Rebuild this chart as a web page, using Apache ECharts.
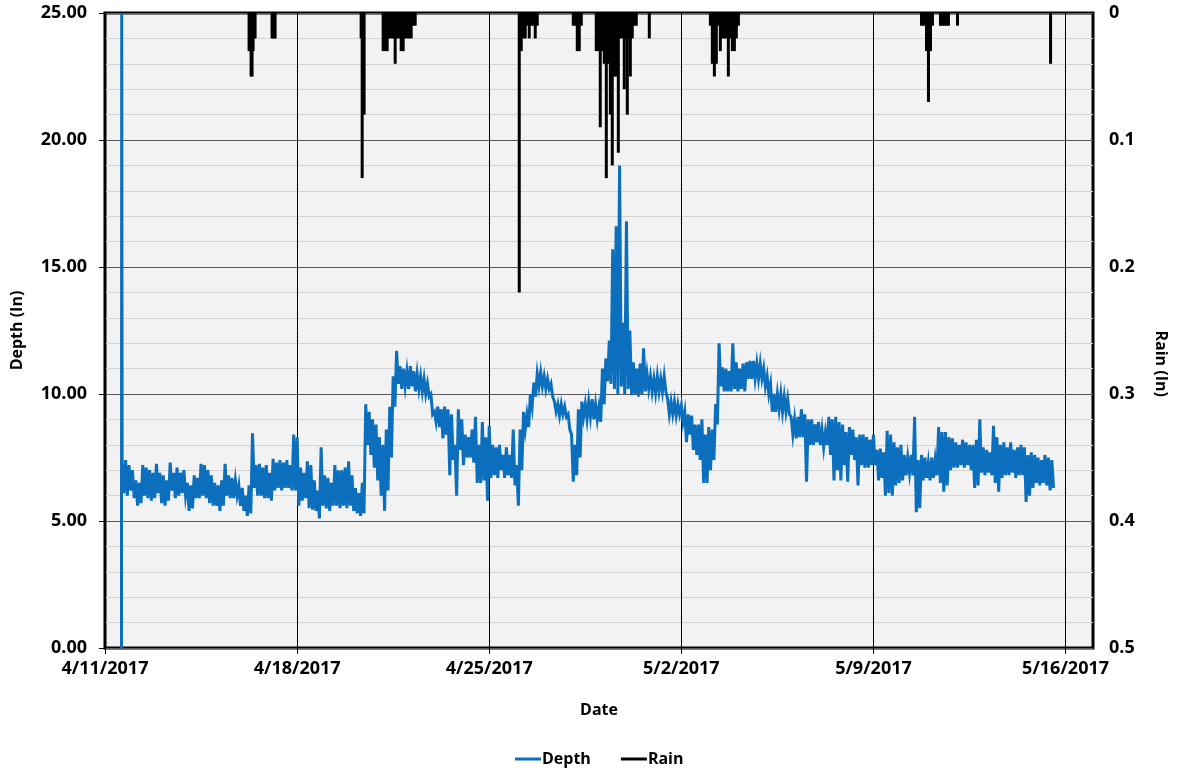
<!DOCTYPE html>
<html><head><meta charset="utf-8">
<script src="https://cdn.jsdelivr.net/npm/echarts@6/dist/echarts.min.js"></script>
<style>html,body{margin:0;padding:0;background:#fff}#c{width:1179px;height:775px}</style>
</head><body><div id="c"></div>
<script>
// x axis: days since 4/11/2017 00:00
const xTickLabels = ['4/11/2017', '4/18/2017', '4/25/2017', '5/2/2017', '5/9/2017', '5/16/2017'];
const xTickDays = [0, 7, 14, 21, 28, 35];

// Depth (In): logger start spike, then 3-hourly slots from 4/11/2017 15:00,
// each slot read as its high and its low reading
const depthSpikeHours = [14.4, 14.6];
const depthSpikeValues = [0, 25];
const depthStartHour = 15;
const depthStepHours = 3;
const depthHigh = [
  7.3, 7.4, 7.2, 7.0, 6.6, 6.5, 7.2, 7.1,
  7.0, 6.9, 7.25, 6.9, 6.8, 6.6, 7.3, 6.9,
  7.1, 6.9, 7.0, 6.5, 6.4, 6.8, 6.7, 7.25,
  7.2, 7.0, 6.8, 6.5, 6.4, 6.6, 7.25, 6.8,
  6.7, 6.6, 6.4, 6.3, 6.0, 6.4, 8.45, 7.2,
  7.25, 7.1, 7.2, 6.9, 7.45, 7.3, 7.4, 7.3,
  7.4, 7.2, 8.4, 8.3, 7.1, 6.9, 7.35, 7.2,
  6.6, 6.2, 7.9, 6.8, 6.7, 6.5, 7.2, 7.0,
  7.0, 7.1, 7.35, 6.8, 6.3, 6.1, 6.5, 9.6,
  9.3, 9.0, 8.8, 8.3, 8.0, 8.6, 9.5, 10.7,
  11.7, 11.1, 11.0, 10.9, 11.1, 10.9, 10.8, 10.7,
  10.6, 10.4, 10.0, 9.3, 9.5, 9.4, 9.5, 9.4,
  9.2, 8.0, 9.4, 9.0, 8.4, 8.3, 8.6, 9.1,
  8.0, 8.9, 8.3, 8.75, 8.0, 7.9, 8.0, 7.6,
  7.9, 7.6, 8.6, 7.2, 8.6, 9.3, 9.2, 10.0,
  10.45, 10.8, 10.85, 10.7, 10.6, 10.4, 9.7, 9.6,
  9.6, 9.5, 9.2, 8.4, 8.0, 9.4, 9.7, 9.6,
  9.7, 9.8, 9.6, 9.5, 11.0, 11.4, 12.1, 15.7,
  16.6, 19.0, 12.8, 16.8, 12.5, 11.25, 11.0, 11.2,
  11.8, 10.8, 10.7, 10.6, 10.7, 10.6, 10.7, 9.8,
  9.7, 9.7, 9.6, 9.55, 9.3, 9.2, 9.15, 8.8,
  8.8, 9.0, 8.4, 8.7, 8.6, 9.6, 12.0, 11.05,
  11.0, 10.9, 12.0, 11.25, 11.0, 11.2, 11.25, 11.3,
  11.3, 11.2, 11.2, 11.0, 10.7, 10.4, 10.0, 10.0,
  10.0, 9.9, 9.8, 9.1, 9.0, 9.1, 9.4, 9.2,
  9.0, 9.0, 8.8, 8.9, 8.6, 8.5, 9.1, 9.0,
  9.1, 8.9, 8.8, 8.5, 8.7, 8.6, 8.3, 8.4,
  8.4, 8.3, 8.2, 8.4, 7.8, 7.85, 7.7, 8.55,
  8.4, 8.1, 7.9, 8.0, 7.6, 7.5, 7.6, 9.1,
  7.4, 7.6, 7.5, 7.3, 7.5, 7.4, 8.7, 8.5,
  8.5, 8.3, 8.25, 8.1, 8.0, 8.2, 8.1, 8.0,
  8.0, 8.2, 9.0, 7.9, 7.8, 7.7, 8.75, 8.3,
  8.0, 8.1, 7.9, 8.1, 7.8, 7.9, 8.0, 7.9,
  7.6, 7.7, 7.6, 7.5, 7.4, 7.6, 7.5, 7.4
];
const depthLow = [
  6.1, 6.0, 6.2, 5.9, 5.6, 5.7, 6.0, 5.9,
  5.8, 5.9, 6.1, 5.7, 5.6, 5.8, 6.2, 5.9,
  6.0, 6.1, 6.0, 5.4, 5.5, 5.9, 5.9, 6.0,
  5.9, 5.7, 5.6, 5.6, 5.4, 5.6, 6.0, 5.9,
  5.9, 6.0, 5.6, 5.4, 5.2, 5.3, 6.3, 6.0,
  6.0, 5.9, 5.9, 5.8, 6.2, 6.3, 6.2, 6.3,
  6.3, 6.2, 6.2, 5.6, 5.8, 5.9, 5.5, 5.45,
  5.4, 5.1, 5.6, 5.5, 5.4, 5.6, 5.6, 5.5,
  5.6, 5.5, 5.6, 5.4, 5.3, 5.2, 5.3, 8.0,
  7.6, 7.1, 6.6, 6.0, 5.4, 6.2, 7.5, 9.5,
  10.4, 10.2, 10.3, 10.2, 10.3, 10.1, 10.2, 10.1,
  10.0, 9.9, 9.2, 8.9, 8.7, 8.25, 8.4, 6.8,
  7.4, 6.0, 7.8, 7.2, 7.5, 7.5, 7.3, 6.5,
  6.5, 6.6, 5.8, 6.7, 6.8, 6.7, 7.0, 6.7,
  6.8, 6.7, 6.4, 5.6, 7.0, 8.6, 8.7, 9.5,
  9.9, 10.3, 10.3, 10.2, 10.2, 9.9, 9.3, 9.15,
  9.2, 9.1, 8.6, 6.55, 6.8, 7.5, 9.1, 9.0,
  9.1, 9.0, 9.0, 8.9, 9.6, 10.5, 10.4, 10.2,
  10.0, 10.3, 10.0, 10.2, 9.95, 10.0, 9.9, 10.0,
  10.1, 10.2, 10.1, 10.05, 10.1, 10.1, 10.1, 9.2,
  9.2, 9.15, 9.2, 8.9, 8.1, 8.4, 7.8, 7.6,
  7.4, 6.5, 6.5, 7.0, 7.4, 8.8, 10.3, 10.1,
  10.1, 10.1, 10.2, 10.1, 10.2, 10.1, 10.6, 10.6,
  10.6, 10.6, 10.6, 10.3, 10.0, 9.3, 9.3, 9.4,
  9.3, 9.3, 9.2, 8.4, 8.25, 8.3, 8.3, 6.55,
  8.0, 8.0, 8.1, 8.0, 7.9, 8.0, 7.6, 6.6,
  7.0, 6.6, 7.2, 6.55, 7.6, 7.4, 6.4, 7.2,
  7.1, 7.1, 7.2, 7.2, 6.6, 6.7, 6.0, 6.1,
  6.0, 6.4, 6.5, 6.6, 6.8, 6.9, 6.8, 5.35,
  5.5, 6.6, 6.7, 6.6, 6.7, 6.8, 6.5, 6.15,
  6.4, 7.0, 7.1, 7.1, 7.2, 7.1, 7.2, 7.0,
  6.3, 6.4, 6.9, 6.8, 6.9, 6.8, 6.5, 6.15,
  6.7, 6.8, 6.8, 6.9, 6.7, 6.8, 6.8, 5.75,
  6.0, 6.3, 6.5, 6.4, 6.5, 6.4, 6.2, 6.3
];

// Rain (In): hours since 4/11/2017 00:00 and amounts
const rainHours = [
  126.0, 126.9, 127.75, 128.6, 129.5, 130.4, 131.25,
  146.1, 147.9, 148.75,
  224.0, 224.9, 225.75, 226.6,
  243.25, 245.0, 246.75, 248.5, 250.25, 252.0, 253.75, 255.5, 257.25, 259.0, 260.75, 262.5, 264.25, 266.0, 267.75, 269.5, 271.25,
  362.25, 364.0, 365.75, 367.5, 369.25, 371.0, 372.75, 374.5, 376.25, 378.0,
  409.5, 411.25, 413.0, 414.75, 416.5,
  429.6, 431.4, 433.1, 434.9, 436.6, 438.4, 440.1, 441.9, 443.6, 445.4, 447.1, 448.9, 450.6, 452.4, 454.1, 455.9, 456.75, 458.5, 459.4, 461.1, 462.9, 464.6,
  476.0,
  529.4, 531.1, 532.9, 534.6, 536.4, 538.1, 539.9, 541.6, 543.4, 545.1, 546.9, 548.6, 550.4, 552.1, 553.9,
  714.0, 715.75, 718.4, 720.1, 721.9, 723.6,
  730.6, 732.4, 734.1, 735.9, 737.6, 745.5,
  826.9
];
const rainValues = [
  0.03, 0.02, 0.05, 0.05, 0.03, 0.02, 0.02,
  0.02, 0.02, 0.02,
  0.02, 0.13, 0.02, 0.08,
  0.03, 0.03, 0.03, 0.02, 0.02, 0.02, 0.04, 0.02, 0.02, 0.03, 0.03, 0.02, 0.02, 0.02, 0.02, 0.01, 0.01,
  0.22, 0.03, 0.02, 0.02, 0.01, 0.02, 0.01, 0.01, 0.02, 0.01,
  0.01, 0.01, 0.03, 0.03, 0.01,
  0.03, 0.03, 0.09, 0.03, 0.04, 0.13, 0.04, 0.08, 0.12, 0.05, 0.05, 0.11, 0.02, 0.02, 0.06, 0.02, 0.08, 0.02, 0.05, 0.02, 0.01, 0.01,
  0.02,
  0.01, 0.04, 0.05, 0.04, 0.01, 0.03, 0.02, 0.02, 0.02, 0.05, 0.02, 0.03, 0.03, 0.02, 0.01,
  0.01, 0.01, 0.03, 0.07, 0.03, 0.01,
  0.01, 0.01, 0.01, 0.01, 0.01, 0.01,
  0.04
];

const depthData = depthSpikeHours.map((h, i) => [h / 24, depthSpikeValues[i]]);
depthHigh.forEach((v, i) => {
  const h = depthStartHour + i * depthStepHours;
  depthData.push([h / 24, v]);
  depthData.push([(h + depthStepHours / 2) / 24, depthLow[i]]);
});
const rainData = rainHours.map((h, i) => [h / 24, rainValues[i]]);

const FONT = 'Open Sans';
const chart = echarts.init(document.getElementById('c'));
chart.setOption({
  animation: false,
  backgroundColor: '#ffffff',
  textStyle: { fontFamily: FONT },
  grid: {
    left: 105, right: 86, top: 13, bottom: 127,
    show: true, backgroundColor: '#f2f2f2', borderColor: '#000', borderWidth: 3
  },
  legend: {
    bottom: 3, left: 510, itemWidth: 26, itemHeight: 3, itemGap: 30,
    textStyle: { fontFamily: FONT, fontWeight: 'bold', fontSize: 16, color: '#000', padding: [0, 0, 0, -4] },
    data: [{ name: 'Depth', icon: 'rect' }, { name: 'Rain', icon: 'rect' }]
  },
  xAxis: {
    type: 'value', min: 0, max: 36, interval: 7,
    name: 'Date', nameLocation: 'middle', nameGap: 54,
    nameTextStyle: { fontFamily: FONT, fontWeight: 'bold', fontSize: 16, color: '#000' },
    axisLine: { show: false },
    axisTick: { show: true, length: 6, lineStyle: { color: '#000' }, customValues: xTickDays },
    axisLabel: {
      margin: 12, fontFamily: FONT, fontWeight: 'bold', fontSize: 18, color: '#000',
      customValues: xTickDays,
      formatter: v => xTickLabels[xTickDays.indexOf(v)] || ''
    },
    splitLine: { show: true, lineStyle: { color: '#000', width: 1 } }
  },
  yAxis: [{
    type: 'value', min: 0, max: 25, interval: 5,
    name: 'Depth (In)', nameLocation: 'middle', nameGap: 80, nameRotate: 90,
    nameTextStyle: { fontFamily: FONT, fontWeight: 'bold', fontSize: 16, color: '#000' },
    axisLine: { show: false },
    axisTick: { show: true, length: 6, lineStyle: { color: '#000' } },
    axisLabel: { margin: 18, fontFamily: FONT, fontWeight: 'bold', fontSize: 18, color: '#000', formatter: v => v.toFixed(2) },
    splitLine: { show: true, lineStyle: { color: '#595959', width: 1 } },
    minorTick: { show: false, splitNumber: 5 },
    minorSplitLine: { show: true, lineStyle: { color: '#d4d4d4', width: 1 } }
  }, {
    type: 'value', min: 0, max: 0.5, interval: 0.1, inverse: true, position: 'right',
    name: 'Rain (In)', nameLocation: 'middle', nameGap: 60, nameRotate: -90,
    nameTextStyle: { fontFamily: FONT, fontWeight: 'bold', fontSize: 16, color: '#000', align: 'left' },
    axisLine: { show: false },
    axisTick: { show: false },
    axisLabel: { margin: 16, fontFamily: FONT, fontWeight: 'bold', fontSize: 18, color: '#000', formatter: v => String(+v.toFixed(1)) },
    splitLine: { show: false }
  }],
  series: [{
    name: 'Depth', type: 'line', xAxisIndex: 0, yAxisIndex: 0,
    data: depthData, showSymbol: false, symbol: 'none',
    lineStyle: { color: '#0b6fbd', width: 3, join: 'miter' },
    itemStyle: { color: '#0b6fbd' }
  }, {
    name: 'Rain', type: 'bar', xAxisIndex: 0, yAxisIndex: 1,
    data: rainData, barWidth: 3,
    itemStyle: { color: '#000' }
  }]
});
</script>
</body></html>
